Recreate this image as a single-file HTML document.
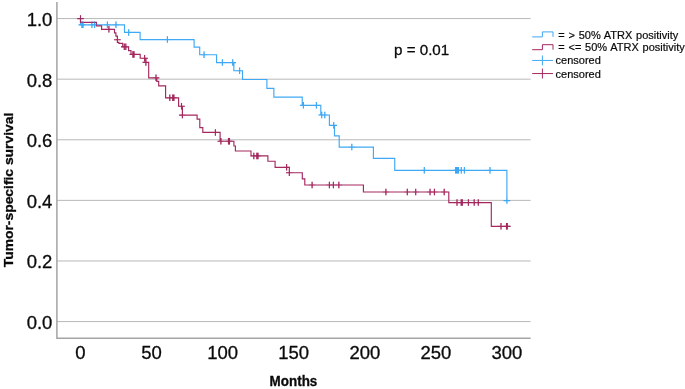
<!DOCTYPE html>
<html><head><meta charset="utf-8"><title>Kaplan-Meier</title>
<style>
html,body{margin:0;padding:0;background:#fff;}
body{width:685px;height:389px;overflow:hidden;position:relative;}
svg{display:block;position:absolute;left:0;top:0;}
text{font-family:"Liberation Sans",Arial,sans-serif;fill:#0a0a0a;stroke:#0a0a0a;stroke-width:0.3px;stroke-linejoin:round;}
.tick{font-size:18.5px;}
.bold{font-weight:bold;font-size:13.5px;}
.leg{font-size:11px;word-spacing:0.7px;stroke-width:0.2px;}
</style></head><body>
<svg width="685" height="389" viewBox="0 0 685 389">
<rect width="685" height="389" fill="#fff"/>
<line x1="57" y1="18.57" x2="530.6" y2="18.57" stroke="#b8b8b8" stroke-width="1"/>
<line x1="57" y1="79.17" x2="530.6" y2="79.17" stroke="#b8b8b8" stroke-width="1"/>
<line x1="57" y1="139.77" x2="530.6" y2="139.77" stroke="#b8b8b8" stroke-width="1"/>
<line x1="57" y1="200.37" x2="530.6" y2="200.37" stroke="#b8b8b8" stroke-width="1"/>
<line x1="57" y1="260.97" x2="530.6" y2="260.97" stroke="#b8b8b8" stroke-width="1"/>
<line x1="57" y1="321.57" x2="530.6" y2="321.57" stroke="#b8b8b8" stroke-width="1"/>
<path d="M56.9,1.9V338.2H530.6" fill="none" stroke="#a4a4a4" stroke-width="1.5"/>
<path d="M80.50,18.57 L80.50,24.84 L124.50,24.84 L124.50,32.40 L140.10,32.40 L140.10,39.60 L194.10,39.60 L194.10,47.10 L199.70,47.10 L199.70,54.70 L216.60,54.70 L216.60,62.60 L233.85,62.60 L233.85,70.70 L242.50,70.70 L242.50,79.50 L266.90,79.50 L266.90,88.30 L273.85,88.30 L273.85,97.10 L302.25,97.10 L302.25,105.35 L320.80,105.35 L320.80,115.00 L329.40,115.00 L329.40,125.35 L334.50,125.35 L334.50,135.90 L339.20,135.90 L339.20,147.10 L373.40,147.10 L373.40,158.40 L394.75,158.40 L394.75,170.30 L506.90,170.30 L506.90,200.60M78.60,24.84H85.20M81.90,21.59V28.09M79.70,24.84H86.30M83.00,21.59V28.09M88.60,24.84H95.20M91.90,21.59V28.09M91.30,24.84H97.90M94.60,21.59V28.09M104.10,24.84H110.70M107.40,21.59V28.09M112.65,24.84H119.25M115.95,21.59V28.09M125.35,32.40H131.95M128.65,29.15V35.65M164.10,39.60H170.70M167.40,36.35V42.85M200.75,54.70H207.35M204.05,51.45V57.95M219.10,62.60H225.70M222.40,59.35V65.85M229.40,62.60H236.00M232.70,59.35V65.85M236.30,70.70H242.90M239.60,67.45V73.95M300.10,105.35H306.70M303.40,102.10V108.60M313.10,105.35H319.70M316.40,102.10V108.60M318.40,115.00H325.00M321.70,111.75V118.25M321.50,115.00H328.10M324.80,111.75V118.25M330.40,125.35H337.00M333.70,122.10V128.60M348.50,147.10H355.10M351.80,143.85V150.35M421.00,170.30H427.60M424.30,167.05V173.55M452.30,170.30H458.90M455.60,167.05V173.55M453.30,170.30H459.90M456.60,167.05V173.55M454.30,170.30H460.90M457.60,167.05V173.55M455.20,170.30H461.80M458.50,167.05V173.55M458.00,170.30H464.60M461.30,167.05V173.55M461.10,170.30H467.70M464.40,167.05V173.55M486.70,170.30H493.30M490.00,167.05V173.55M503.60,200.60H510.20M506.90,197.35V203.85" fill="none" stroke="#3fa9f5" stroke-width="1.15"/>
<path d="M80.50,18.57 L80.50,22.30 L96.45,22.30 L96.45,25.80 L101.60,25.80 L101.60,29.30 L114.50,29.30 L114.50,32.80 L115.90,32.80 L115.90,36.10 L117.40,36.10 L117.40,42.40 L118.90,42.40 L118.90,43.40 L122.70,43.40 L122.70,46.80 L128.60,46.80 L128.60,50.60 L131.00,50.60 L131.00,54.40 L140.20,54.40 L140.20,58.25 L145.90,58.25 L145.90,62.40 L148.70,62.40 L148.70,77.80 L156.80,77.80 L156.80,81.40 L158.70,81.40 L158.70,85.80 L165.60,85.80 L165.60,97.80 L178.60,97.80 L178.60,106.20 L182.40,106.20 L182.40,115.10 L197.10,115.10 L197.10,119.10 L199.80,119.10 L199.80,127.60 L202.80,127.60 L202.80,132.40 L220.10,132.40 L220.10,141.20 L233.90,141.20 L233.90,146.00 L235.40,146.00 L235.40,151.00 L251.00,151.00 L251.00,155.90 L267.90,155.90 L267.90,161.20 L275.10,161.20 L275.10,167.30 L289.35,167.30 L289.35,172.70 L302.30,172.70 L302.30,178.90 L304.80,178.90 L304.80,185.00 L363.40,185.00 L363.40,192.00 L448.80,192.00 L448.80,202.60 L491.30,202.60 L491.30,226.30 L507.00,226.30M77.20,18.57H83.80M80.50,15.32V21.82M105.60,29.30H112.20M108.90,26.05V32.55M114.10,39.70H120.70M117.40,36.45V42.95M121.00,46.80H127.60M124.30,43.55V50.05M122.50,46.80H129.10M125.80,43.55V50.05M129.60,54.40H136.20M132.90,51.15V57.65M130.70,54.40H137.30M134.00,51.15V57.65M141.30,58.25H147.90M144.60,55.00V61.50M142.60,62.40H149.20M145.90,59.15V65.65M152.70,77.80H159.30M156.00,74.55V81.05M166.50,97.80H173.10M169.80,94.55V101.05M169.40,97.80H176.00M172.70,94.55V101.05M170.60,97.80H177.20M173.90,94.55V101.05M178.20,106.20H184.80M181.50,102.95V109.45M179.10,115.10H185.70M182.40,111.85V118.35M212.10,132.40H218.70M215.40,129.15V135.65M217.60,141.20H224.20M220.90,137.95V144.45M225.20,141.20H231.80M228.50,137.95V144.45M226.20,141.20H232.80M229.50,137.95V144.45M250.50,155.90H257.10M253.80,152.65V159.15M253.50,155.90H260.10M256.80,152.65V159.15M254.70,155.90H261.30M258.00,152.65V159.15M283.30,167.30H289.90M286.60,164.05V170.55M286.05,172.70H292.65M289.35,169.45V175.95M308.80,185.00H315.40M312.10,181.75V188.25M326.10,185.00H332.70M329.40,181.75V188.25M330.10,185.00H336.70M333.40,181.75V188.25M335.55,185.00H342.15M338.85,181.75V188.25M382.60,192.00H389.20M385.90,188.75V195.25M404.00,192.00H410.60M407.30,188.75V195.25M412.40,192.00H419.00M415.70,188.75V195.25M426.75,192.00H433.35M430.05,188.75V195.25M431.10,192.00H437.70M434.40,188.75V195.25M440.90,192.00H447.50M444.20,188.75V195.25M453.70,202.60H460.30M457.00,199.35V205.85M457.90,202.60H464.50M461.20,199.35V205.85M459.00,202.60H465.60M462.30,199.35V205.85M465.10,202.60H471.70M468.40,199.35V205.85M470.90,202.60H477.50M474.20,199.35V205.85M475.00,202.60H481.60M478.30,199.35V205.85M497.70,226.30H504.30M501.00,223.05V229.55M503.20,226.30H509.80M506.50,223.05V229.55M504.00,226.30H510.60M507.30,223.05V229.55" fill="none" stroke="#a4285f" stroke-width="1.15"/>
<path d="M77.20,18.57H83.80M80.50,15.32V21.82M105.60,29.30H112.20M108.90,26.05V32.55M114.10,39.70H120.70M117.40,36.45V42.95M121.00,46.80H127.60M124.30,43.55V50.05M122.50,46.80H129.10M125.80,43.55V50.05M129.60,54.40H136.20M132.90,51.15V57.65M130.70,54.40H137.30M134.00,51.15V57.65M141.30,58.25H147.90M144.60,55.00V61.50M142.60,62.40H149.20M145.90,59.15V65.65M152.70,77.80H159.30M156.00,74.55V81.05M166.50,97.80H173.10M169.80,94.55V101.05M169.40,97.80H176.00M172.70,94.55V101.05M170.60,97.80H177.20M173.90,94.55V101.05M178.20,106.20H184.80M181.50,102.95V109.45M179.10,115.10H185.70M182.40,111.85V118.35M212.10,132.40H218.70M215.40,129.15V135.65M217.60,141.20H224.20M220.90,137.95V144.45M225.20,141.20H231.80M228.50,137.95V144.45M226.20,141.20H232.80M229.50,137.95V144.45M250.50,155.90H257.10M253.80,152.65V159.15M253.50,155.90H260.10M256.80,152.65V159.15M254.70,155.90H261.30M258.00,152.65V159.15M283.30,167.30H289.90M286.60,164.05V170.55M286.05,172.70H292.65M289.35,169.45V175.95M308.80,185.00H315.40M312.10,181.75V188.25M326.10,185.00H332.70M329.40,181.75V188.25M330.10,185.00H336.70M333.40,181.75V188.25M335.55,185.00H342.15M338.85,181.75V188.25M382.60,192.00H389.20M385.90,188.75V195.25M404.00,192.00H410.60M407.30,188.75V195.25M412.40,192.00H419.00M415.70,188.75V195.25M426.75,192.00H433.35M430.05,188.75V195.25M431.10,192.00H437.70M434.40,188.75V195.25M440.90,192.00H447.50M444.20,188.75V195.25M453.70,202.60H460.30M457.00,199.35V205.85M457.90,202.60H464.50M461.20,199.35V205.85M459.00,202.60H465.60M462.30,199.35V205.85M465.10,202.60H471.70M468.40,199.35V205.85M470.90,202.60H477.50M474.20,199.35V205.85M475.00,202.60H481.60M478.30,199.35V205.85M497.70,226.30H504.30M501.00,223.05V229.55M503.20,226.30H509.80M506.50,223.05V229.55M504.00,226.30H510.60M507.30,223.05V229.55" fill="none" stroke="#a4285f" stroke-width="1.0" stroke-opacity="0.45"/>
<path d="M78.60,24.84H85.20M81.90,21.59V28.09M79.70,24.84H86.30M83.00,21.59V28.09M88.60,24.84H95.20M91.90,21.59V28.09M91.30,24.84H97.90M94.60,21.59V28.09M104.10,24.84H110.70M107.40,21.59V28.09M112.65,24.84H119.25M115.95,21.59V28.09M125.35,32.40H131.95M128.65,29.15V35.65M164.10,39.60H170.70M167.40,36.35V42.85M200.75,54.70H207.35M204.05,51.45V57.95M219.10,62.60H225.70M222.40,59.35V65.85M229.40,62.60H236.00M232.70,59.35V65.85M236.30,70.70H242.90M239.60,67.45V73.95M300.10,105.35H306.70M303.40,102.10V108.60M313.10,105.35H319.70M316.40,102.10V108.60M318.40,115.00H325.00M321.70,111.75V118.25M321.50,115.00H328.10M324.80,111.75V118.25M330.40,125.35H337.00M333.70,122.10V128.60M348.50,147.10H355.10M351.80,143.85V150.35M421.00,170.30H427.60M424.30,167.05V173.55M452.30,170.30H458.90M455.60,167.05V173.55M453.30,170.30H459.90M456.60,167.05V173.55M454.30,170.30H460.90M457.60,167.05V173.55M455.20,170.30H461.80M458.50,167.05V173.55M458.00,170.30H464.60M461.30,167.05V173.55M461.10,170.30H467.70M464.40,167.05V173.55M486.70,170.30H493.30M490.00,167.05V173.55M503.60,200.60H510.20M506.90,197.35V203.85" fill="none" stroke="#3fa9f5" stroke-width="1.0" stroke-opacity="0.45"/>
<text class="tick" x="52.4" y="26.07" text-anchor="end">1.0</text>
<text class="tick" x="52.4" y="86.67" text-anchor="end">0.8</text>
<text class="tick" x="52.4" y="147.27" text-anchor="end">0.6</text>
<text class="tick" x="52.4" y="207.87" text-anchor="end">0.4</text>
<text class="tick" x="52.4" y="268.47" text-anchor="end">0.2</text>
<text class="tick" x="52.4" y="329.07" text-anchor="end">0.0</text>
<text class="tick" x="80.50" y="358.8" text-anchor="middle">0</text>
<text class="tick" x="151.58" y="358.8" text-anchor="middle">50</text>
<text class="tick" x="222.66" y="358.8" text-anchor="middle">100</text>
<text class="tick" x="293.74" y="358.8" text-anchor="middle">150</text>
<text class="tick" x="364.82" y="358.8" text-anchor="middle">200</text>
<text class="tick" x="435.90" y="358.8" text-anchor="middle">250</text>
<text class="tick" x="506.98" y="358.8" text-anchor="middle">300</text>
<text class="bold" x="269.6" y="386" style="font-size:14px" textLength="47.7" lengthAdjust="spacingAndGlyphs">Months</text>
<text class="bold" transform="translate(13.2,267.2) rotate(-90)" textLength="154.5" lengthAdjust="spacingAndGlyphs">Tumor-specific survival</text>
<text x="394" y="54.9" style="font-size:14.6px" textLength="55.2" lengthAdjust="spacingAndGlyphs">p = 0.01</text>
<path d="M532.2,36.9H542.4V31.9H553V36.9" fill="none" stroke="#3fa9f5" stroke-width="1"/>
<path d="M532.2,49.7H542.4V44.7H553V49.7" fill="none" stroke="#a4285f" stroke-width="1"/>
<path d="M532.2,60.45H553M542.4,55.5V65.4" fill="none" stroke="#3fa9f5" stroke-width="1"/>
<path d="M532.2,73.55H553M542.4,68.6V78.5" fill="none" stroke="#a4285f" stroke-width="1"/>
<text class="leg" x="558.3" y="38.5">= &gt; 50% ATRX positivity</text>
<text class="leg" x="558.3" y="51.1">= &lt;= 50% ATRX positivity</text>
<text class="leg" x="555.6" y="64.4">censored</text>
<text class="leg" x="555.6" y="77.9">censored</text>
</svg>
</body></html>
